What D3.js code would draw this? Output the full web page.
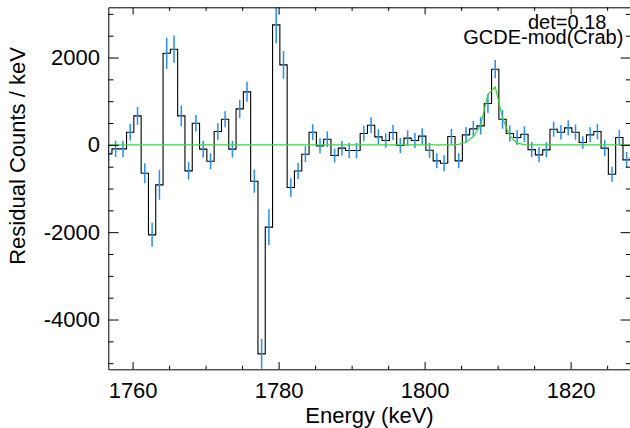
<!DOCTYPE html>
<html lang="en">
<head>
    <meta charset="UTF-8">
    <title>Residual Counts</title>
    <script src="https://d3js.org/d3.v7.min.js"></script>
    <style>
        body { margin: 0; background: #fff; }
        svg text { font-family: "Liberation Sans", Arial, Helvetica, sans-serif; fill: #000; }
    </style>
</head>
<body>
    <svg id="chart" width="630" height="428"></svg>
    <script>
        // bin centres (keV), 1 keV bins
        const energy = [
            1756.67, 1757.67, 1758.67, 1759.67, 1760.67, 1761.67, 1762.67, 1763.67, 1764.67, 1765.67,
            1766.67, 1767.67, 1768.67, 1769.67, 1770.67, 1771.67, 1772.67, 1773.67, 1774.67, 1775.67,
            1776.67, 1777.67, 1778.67, 1779.67, 1780.67, 1781.67, 1782.67, 1783.67, 1784.67, 1785.67,
            1786.67, 1787.67, 1788.67, 1789.67, 1790.67, 1791.67, 1792.67, 1793.67, 1794.67, 1795.67,
            1796.67, 1797.67, 1798.67, 1799.67, 1800.67, 1801.67, 1802.67, 1803.67, 1804.67, 1805.67,
            1806.67, 1807.67, 1808.67, 1809.67, 1810.67, 1811.67, 1812.67, 1813.67, 1814.67, 1815.67,
            1816.67, 1817.67, 1818.67, 1819.67, 1820.67, 1821.67, 1822.67, 1823.67, 1824.67, 1825.67,
            1826.67, 1827.67, 1828.67
        ];
        // residual counts per keV
        const residual = [
            -206, -92, -92, 290, 664, -649, -2061, -916, 2099, 2191,
            664, -595, 496, -99, -374, 305, 588, -99, 824, 1214,
            -832, -4786, -1885, 2748, 1832, -977, -600, -214, 290, -23,
            130, -244, -76, -130, -130, 260, 450, 183, 99, 282,
            -15, 153, 99, 200, -125, -366, -420, 191, -366, 229,
            366, 435, 947, 1733, 588, 260, 168, 244, -110, -229,
            -115, 359, 290, 389, 290, 53, 229, 305, -76, -672,
            168, -344, -282
        ];
        // 1-sigma errors
        const sigma = [
            172, 187, 187, 190, 202, 229, 275, 343, 355, 313,
            237, 198, 190, 190, 183, 190, 183, 190, 210, 229,
            267, 340, 408, 420, 317, 210, 183, 180, 180, 172,
            180, 160, 165, 172, 172, 175, 180, 172, 165, 172,
            172, 180, 172, 183, 175, 172, 183, 172, 172, 180,
            180, 198, 218, 210, 218, 183, 172, 180, 175, 172,
            172, 172, 165, 172, 175, 145, 172, 180, 183, 172,
            172, 180, 175
        ];
        // fitted line model GCDE-mod(Crab)
        const model = [
            0, 0, 0, 0, 0, 0, 0, 0, 0, 0,
            0, 0, 0, 0, 0, 0, 0, 0, 0, 0,
            0, 0, 0, 0, 0, 0, 0, 0, 0, 0,
            0, 0, 0, 0, 0, 0, 0, 0, 0, 0,
            0, 0, 0, 0, 0, 0, 0, 0, 10, 60,
            190, 450, 1150, 1330, 620, 200, 40, 5, 0, 0,
            0, 0, 0, 0, 0, 0, 0, 0, 0, 0,
            0, 0, 0
        ];
        const xMajor = [1760, 1780, 1800, 1820];
        const xMinor = [1765, 1770, 1775, 1785, 1790, 1795, 1805, 1810, 1815, 1825];
        const yMajor = [-4000, -2000, 0, 2000];
        const yMinor = [-5000, -4500, -3500, -3000, -2500, -1500, -1000, -500, 500, 1000, 1500, 2500, 3000];

        const bins = energy.map((e, i) => ({ e: e, v: residual[i], s: sigma[i], m: model[i] }));

        const plotLeft = 108.3, plotRight = 631, plotTop = 7.3, plotBottom = 369.3;
        const svg = d3.select('#chart');

        const x = d3.scaleLinear().domain([1756.67, 1828.27]).range([plotLeft, plotRight]);
        const y = d3.scaleLinear().domain([-5140, 3150]).range([plotBottom, plotTop]);

        svg.append('defs').append('clipPath').attr('id', 'plot-clip')
            .append('rect')
            .attr('x', plotLeft).attr('y', plotTop)
            .attr('width', plotRight - plotLeft).attr('height', plotBottom - plotTop);

        const plot = svg.append('g').attr('clip-path', 'url(#plot-clip)');

        // histogram
        const step = d3.line()
            .x(d => x(d.e))
            .y(d => y(d.v))
            .curve(d3.curveStep);

        plot.append('path')
            .datum(bins)
            .attr('d', step)
            .attr('fill', 'none')
            .attr('stroke', '#000')
            .attr('stroke-width', 1.1);

        // error bars
        plot.selectAll('.err')
            .data(bins)
            .enter().append('line')
            .attr('class', 'err')
            .attr('x1', d => x(d.e))
            .attr('x2', d => x(d.e))
            .attr('y1', d => y(d.v - d.s))
            .attr('y2', d => y(d.v + d.s))
            .attr('stroke', '#1e90ff')
            .attr('stroke-width', 1.5);

        // model
        const modelLine = d3.line()
            .x(d => x(d.e))
            .y(d => y(d.m));

        plot.append('path')
            .datum(bins)
            .attr('d', modelLine)
            .attr('fill', 'none')
            .attr('stroke', '#33dd33')
            .attr('stroke-width', 1.2);

        // axes: majors with labels, minors without
        function addAxis(axis, transform, cls) {
            const g = svg.append('g')
                .attr('class', cls)
                .attr('transform', transform)
                .call(axis);
            g.selectAll('line').attr('stroke', '#000').attr('stroke-width', 1);
            g.selectAll('path').attr('stroke', '#000').attr('stroke-width', 1);
            g.selectAll('text').style('font-size', '22px');
            return g;
        }

        addAxis(d3.axisBottom(x).tickValues(xMajor).tickFormat(d3.format('d'))
            .tickSizeInner(-7.2).tickSizeOuter(0).tickPadding(13.4),
            `translate(0,${plotBottom})`, 'x-major');
        addAxis(d3.axisBottom(x).tickValues(xMinor).tickFormat('')
            .tickSizeInner(-3.6).tickSizeOuter(0),
            `translate(0,${plotBottom})`, 'x-minor').select('.domain').remove();
        addAxis(d3.axisTop(x).tickValues(xMajor).tickFormat('')
            .tickSizeInner(-7.2).tickSizeOuter(0),
            `translate(0,${plotTop})`, 'x-top');
        addAxis(d3.axisTop(x).tickValues(xMinor).tickFormat('')
            .tickSizeInner(-3.6).tickSizeOuter(0),
            `translate(0,${plotTop})`, 'x-top-minor').select('.domain').remove();

        addAxis(d3.axisLeft(y).tickValues(yMajor).tickFormat(d3.format('d'))
            .tickSizeInner(-10.4).tickSizeOuter(0).tickPadding(8.3),
            `translate(${plotLeft},0)`, 'y-major');
        addAxis(d3.axisLeft(y).tickValues(yMinor).tickFormat('')
            .tickSizeInner(-5.2).tickSizeOuter(0),
            `translate(${plotLeft},0)`, 'y-minor').select('.domain').remove();
        addAxis(d3.axisRight(y).tickValues(yMajor).tickFormat('')
            .tickSizeInner(-10.4).tickSizeOuter(0),
            `translate(${plotRight},0)`, 'y-right');
        addAxis(d3.axisRight(y).tickValues(yMinor).tickFormat('')
            .tickSizeInner(-5.2).tickSizeOuter(0),
            `translate(${plotRight},0)`, 'y-right-minor').select('.domain').remove();

        // minus sign as plain hyphen, like the original
        svg.selectAll('.y-major text').text(d => String(d));

        // titles
        svg.append('text')
            .attr('x', 369.5).attr('y', 422.7)
            .attr('text-anchor', 'middle')
            .style('font-size', '22px')
            .text('Energy (keV)');

        svg.append('text')
            .attr('transform', 'translate(25,156) rotate(-90)')
            .attr('text-anchor', 'middle')
            .style('font-size', '22px')
            .text('Residual Counts / keV');

        svg.append('text')
            .attr('x', 528).attr('y', 29.3)
            .style('font-size', '20px')
            .text('det=0.18');

        svg.append('text')
            .attr('x', 463.3).attr('y', 44)
            .style('font-size', '20px')
            .text('GCDE-mod(Crab)');
    </script>
</body>
</html>
